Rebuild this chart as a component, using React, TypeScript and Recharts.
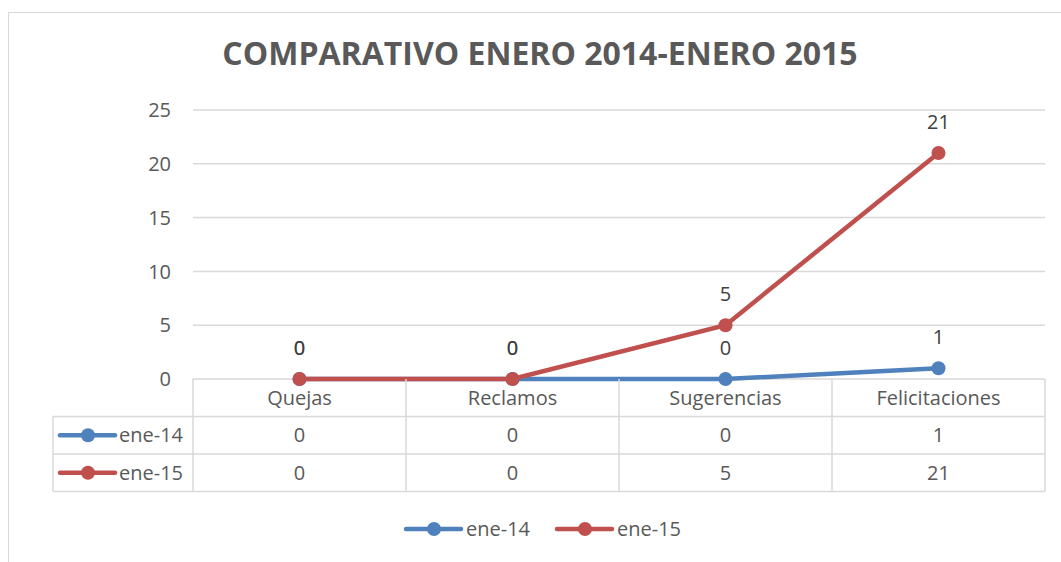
import React from 'react'
import {
  LineChart,
  Line,
  XAxis,
  YAxis,
  CartesianGrid,
  LabelList,
} from 'recharts'

// categorías y series
const categories = ['Quejas', 'Reclamos', 'Sugerencias', 'Felicitaciones']
const ene14 = [0, 0, 0, 1]
const ene15 = [0, 0, 5, 21]
const yTicks = [0, 5, 10, 15, 20, 25]

const series = [
  { key: 'ene14', name: 'ene-14', color: '#4F81BD', values: ene14 },
  { key: 'ene15', name: 'ene-15', color: '#C0504D', values: ene15 },
]

const data = categories.map((cat, i) => ({
  name: cat,
  ene14: ene14[i],
  ene15: ene15[i],
}))

const W = 1061
const H = 562
const MARGIN = { top: 110, right: 16, bottom: 71, left: 133 }
const Y_WIDTH = 60
const X_HEIGHT = 112
const BAND = (W - MARGIN.left - Y_WIDTH - MARGIN.right) / categories.length
const ROW = 37.5
const KEY_COL = 140
const FONT = '"Open Sans", sans-serif'
const FS = 20
const TEXT = '#595959'
const GRID = '#D9D9D9'

// marca de leyenda: línea con punto
const LegendKey = ({ x, y, color }: { x: number; y: number; color: string }) => (
  <g>
    <line x1={x} y1={y} x2={x + 55} y2={y} stroke={color} strokeWidth={4.5} strokeLinecap="round" />
    <circle cx={x + 28} cy={y} r={7} fill={color} />
  </g>
)

// tick del eje X con la tabla de datos
const TableTick = ({ x, y, payload }: any) => {
  const i = payload.index
  const left = x - BAND / 2
  const right = x + BAND / 2
  return (
    <g>
      <line x1={right} y1={y} x2={right} y2={y + ROW * 3} stroke={GRID} strokeWidth={1.5} />
      {i === 0 && (
        <g>
          <line x1={left} y1={y} x2={left} y2={y + ROW * 3} stroke={GRID} strokeWidth={1.5} />
          <line x1={left - KEY_COL} y1={y + ROW} x2={left - KEY_COL} y2={y + ROW * 3} stroke={GRID} strokeWidth={1.5} />
          <line x1={left - KEY_COL} y1={y + ROW} x2={left} y2={y + ROW} stroke={GRID} strokeWidth={1.5} />
          <line x1={left - KEY_COL} y1={y + ROW * 2} x2={left} y2={y + ROW * 2} stroke={GRID} strokeWidth={1.5} />
          <line x1={left - KEY_COL} y1={y + ROW * 3} x2={left} y2={y + ROW * 3} stroke={GRID} strokeWidth={1.5} />
          {series.map((s, r) => (
            <g key={s.key}>
              <LegendKey x={left - KEY_COL + 7} y={y + ROW * (r + 1.5)} color={s.color} />
              <text
                x={left - KEY_COL + 66}
                y={y + ROW * (r + 1.5)}
                dy="0.35em"
                fill={TEXT}
                fontSize={FS}
                fontFamily={FONT}
              >
                {s.name}
              </text>
            </g>
          ))}
        </g>
      )}
      <line x1={left} y1={y + ROW} x2={right} y2={y + ROW} stroke={GRID} strokeWidth={1.5} />
      <line x1={left} y1={y + ROW * 2} x2={right} y2={y + ROW * 2} stroke={GRID} strokeWidth={1.5} />
      <line x1={left} y1={y + ROW * 3} x2={right} y2={y + ROW * 3} stroke={GRID} strokeWidth={1.5} />
      <text x={x} y={y + ROW * 0.5} dy="0.35em" textAnchor="middle" fill={TEXT} fontSize={FS} fontFamily={FONT}>
        {payload.value}
      </text>
      {series.map((s, r) => (
        <text
          key={s.key}
          x={x}
          y={y + ROW * (r + 1.5)}
          dy="0.35em"
          textAnchor="middle"
          fill={TEXT}
          fontSize={FS}
          fontFamily={FONT}
        >
          {s.values[i]}
        </text>
      ))}
    </g>
  )
}

export default function App() {
  return (
    <div
      style={{
        position: 'absolute',
        left: 0,
        top: 0,
        width: W,
        height: H,
        overflow: 'hidden',
        background: '#fff',
        fontFamily: FONT,
      }}
    >
      <div
        style={{
          position: 'absolute',
          left: 8,
          top: 12,
          width: W,
          height: H,
          border: `1px solid ${GRID}`,
        }}
      />
      <div
        style={{
          position: 'absolute',
          left: 0,
          top: 31,
          width: 1080,
          textAlign: 'center',
          fontSize: 32,
          fontWeight: 700,
          color: TEXT,
        }}
      >
        COMPARATIVO ENERO 2014-ENERO 2015
      </div>
      <div style={{ position: 'absolute', left: 0, top: 0 }}>
        <LineChart width={W} height={H} data={data} margin={MARGIN}>
          <CartesianGrid vertical={false} stroke={GRID} strokeWidth={1.5} />
          <XAxis
            dataKey="name"
            height={X_HEIGHT}
            axisLine={false}
            tickLine={false}
            tickSize={0}
            tickMargin={0}
            interval={0}
            padding={{ left: BAND / 2, right: BAND / 2 }}
            tick={<TableTick />}
          />
          <YAxis
            width={Y_WIDTH}
            domain={[0, 25]}
            ticks={yTicks}
            axisLine={false}
            tickLine={false}
            tickSize={0}
            tickMargin={22}
            tick={{ fill: TEXT, fontSize: FS, fontFamily: FONT }}
          />
          {series.map((s) => (
            <Line
              key={s.key}
              dataKey={s.key}
              name={s.name}
              stroke={s.color}
              strokeWidth={4.5}
              dot={{ r: 7, fill: s.color, stroke: s.color, strokeWidth: 0 }}
              activeDot={false}
              isAnimationActive={false}
            >
              <LabelList
                dataKey={s.key}
                position="top"
                offset={24}
                fill="#404040"
                fontSize={FS}
                fontFamily={FONT}
              />
            </Line>
          ))}
        </LineChart>
      </div>
      <svg style={{ position: 'absolute', left: 0, top: 0 }} width={W} height={H} pointerEvents="none">
        {series.map((s, r) => (
          <g key={s.key}>
            <LegendKey x={406 + r * 151} y={529} color={s.color} />
            <text x={466 + r * 151} y={529} dy="0.35em" fill={TEXT} fontSize={FS} fontFamily={FONT}>
              {s.name}
            </text>
          </g>
        ))}
      </svg>
    </div>
  )
}
